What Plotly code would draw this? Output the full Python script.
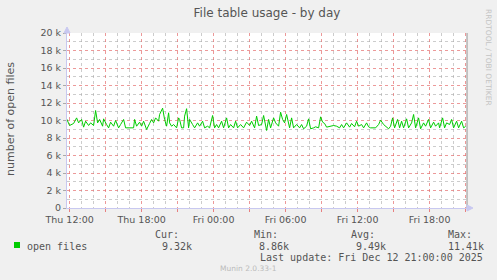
import plotly.graph_objects as go
import pandas as pd

# ---------------- data ----------------
series_name = "open files"
start_time = "2025-12-11 11:45"          # first 5-minute sample
sample_no = [
    0, 3, 7, 10, 12, 15, 17, 19, 22, 24, 27, 29, 31, 33, 36, 37, 40, 42, 44, 47,
    49, 52, 54, 57, 59, 62, 64, 67, 68, 70, 73, 75, 77, 80, 83, 85, 87, 89, 92, 93,
    96, 98, 100, 102, 103, 105, 107, 110, 112, 113, 115, 117, 118, 120, 122, 123, 126, 128, 131, 133,
    136, 138, 141, 143, 146, 148, 150, 152, 155, 157, 160, 162, 164, 167, 169, 171,
    174, 177, 180, 183, 185, 188, 190, 192, 195, 197, 200, 202, 204, 207, 209, 212, 214, 216, 218, 220,
    223, 225, 227, 230, 233, 235, 237, 240, 242, 244, 247, 249, 252, 254, 256, 258, 260, 263, 265, 267,
    270, 273, 275, 277, 280, 283, 285, 288, 290, 292, 295, 297, 300, 302, 304, 307, 309, 312, 314, 317,
    319, 322, 324, 326, 328, 331, 333, 335, 337, 340, 342, 345, 347, 349, 352, 354, 357, 359, 362, 364,
    367, 369, 372, 373, 376, 378, 380, 383, 385, 387, 390, 392, 395, 397, 399,
]
open_files = [
    10190, 9430, 9660, 10300, 9730, 10120, 9240, 9920, 9430, 9730, 9430, 11140, 9730, 10120, 9350, 10190, 9540, 9160, 9810, 9350,
    10000, 9160, 9540, 10120, 9160, 9160, 9240, 9160, 10120, 9350, 9810, 9350, 9920, 8970, 9660, 10120, 9730, 10300, 9920, 10690,
    11410, 10120, 9350, 10880, 9730, 9350, 9540, 9160, 10300, 10120, 9160, 9160, 10500, 11350, 9160, 10120, 9540, 9160, 9730, 9350,
    9920, 9160, 9350, 9160, 10570, 9160, 9540, 9160, 9920, 9160, 10300, 9160, 9540, 9160, 9920, 9160,
    9540, 9160, 9810, 9430, 9920, 9160, 10500, 9430, 9540, 10570, 8860, 10120, 9160, 10300, 9730, 9350, 10950, 10120, 9730, 10690,
    9160, 10300, 9160, 9540, 9160, 9540, 9050, 9350, 10190, 9050, 9160, 9280, 9160, 10420, 9810, 9660, 9240, 9350, 9430, 9430,
    9350, 9160, 9540, 9160, 9730, 9240, 9660, 9280, 9920, 9350, 9540, 9160, 9730, 9280, 9160, 9160, 9160, 9540, 10040, 9540,
    9350, 9050, 9350, 10300, 9160, 10120, 9160, 9920, 9160, 10190, 9160, 9730, 10690, 9160, 10300, 9050, 9730, 9350, 10120, 9160,
    9810, 9350, 9730, 9160, 10300, 9160, 9730, 9540, 10120, 9160, 9920, 9160, 9920, 9160, 9320,
]
x_range = ["2025-12-11 11:47", "2025-12-12 21:07"]
y_range = [0, 20000]
y_ticks = [0, 2000, 4000, 6000, 8000, 10000, 12000, 14000, 16000, 18000, 20000]
y_tick_labels = ["0", "2 k", "4 k", "6 k", "8 k", "10 k", "12 k", "14 k", "16 k", "18 k", "20 k"]
x_ticks = ["2025-12-11 12:00", "2025-12-11 15:00", "2025-12-11 18:00", "2025-12-11 21:00",
           "2025-12-12 00:00", "2025-12-12 03:00", "2025-12-12 06:00", "2025-12-12 09:00",
           "2025-12-12 12:00", "2025-12-12 15:00", "2025-12-12 18:00", "2025-12-12 21:00"]
x_tick_labels = ["Thu 12:00", "", "Thu 18:00", "", "Fri 00:00", "", "Fri 06:00", "",
                 "Fri 12:00", "", "Fri 18:00", ""]
title = "File table usage - by day"
y_title = "number of open files"
stat_names = ["Cur:", "Min:", "Avg:", "Max:"]
stat_values = ["9.32k", "8.86k", "9.49k", "11.41k"]
last_update = "Last update: Fri Dec 12 21:00:00 2025"
footer = "Munin 2.0.33-1"
watermark = "RRDTOOL / TOBI OETIKER"

# ---------------- figure ----------------
times = pd.Timestamp(start_time) + pd.to_timedelta([n * 5 for n in sample_no], unit="min")

# minor grid positions (hourly / every 1 k), skipping the major ones
hours = pd.date_range("2025-12-11 11:00", "2025-12-12 22:00", freq="1h")
x_minor = [h.strftime("%Y-%m-%d %H:%M") for h in hours if h.hour % 3 != 0]
y_minor = [v for v in range(1000, 20000, 1000) if v % 2000 != 0]

W, H = 497, 280
L, R, T, B = 67, 467, 33, 208

def px(x):
    return (x - L) / (R - L)

def py(y):
    return (B - y) / (B - T)

GREEN = "#00CC00"
MAJOR = "rgba(228,110,110,0.7)"
MINOR = "rgba(170,170,170,0.6)"
AXIS = "#C8C8F0"
TXT = "#555555"
DOTS = "dot"

fig = go.Figure()
fig.add_trace(go.Scatter(x=times, y=open_files, mode="lines", name=series_name,
                         line=dict(color=GREEN, width=1), showlegend=False))

fig.update_layout(
    width=W, height=H,
    margin=dict(l=L, r=W - R, t=T, b=H - B, autoexpand=False),
    paper_bgcolor="#F0F0F0", plot_bgcolor="#FFFFFF",
    font=dict(family="DejaVu Sans", size=9.5, color=TXT),
    title=dict(text=title, x=0.5, xref="paper", xanchor="center",
               y=1 - 13 / H, yref="container", yanchor="middle",
               font=dict(family="DejaVu Sans", size=12, color=TXT)),
)
fig.update_xaxes(
    type="date", range=x_range,
    tickmode="array", tickvals=x_ticks, ticktext=x_tick_labels,
    showgrid=True, gridcolor=MAJOR, griddash=DOTS, gridwidth=1,
    ticks="outside", ticklen=3, tickcolor="#E88080",
    showline=True, linecolor=AXIS, linewidth=1, zeroline=False,
    minor=dict(tickmode="array", tickvals=x_minor,
               showgrid=True, gridcolor=MINOR, griddash=DOTS, gridwidth=1, ticks=""),
    tickfont=dict(family="DejaVu Sans", size=9.5, color=TXT),
)
fig.update_yaxes(
    range=y_range, tickmode="array", tickvals=y_ticks, ticktext=y_tick_labels,
    showgrid=True, gridcolor=MAJOR, griddash=DOTS, gridwidth=1,
    ticks="outside", ticklen=3, tickcolor="#AAAAAA",
    showline=True, linecolor=AXIS, linewidth=1, zeroline=False,
    minor=dict(tickmode="array", tickvals=y_minor,
               showgrid=True, gridcolor=MINOR, griddash=DOTS, gridwidth=1, ticks=""),
    tickfont=dict(family="DejaVu Sans", size=9.5, color=TXT),
)

shapes = []
# right frame line
shapes.append(dict(type="line", xref="paper", yref="paper", x0=1, x1=1, y0=0, y1=1,
                   line=dict(color="#909090", width=1)))
# arrows on axes
shapes.append(dict(type="path", xref="paper", yref="paper", xsizemode="pixel", ysizemode="pixel",
                   xanchor=0, yanchor=1, path="M -3,0 L 3,0 L 0,6 Z",
                   fillcolor=AXIS, line=dict(color=AXIS, width=1)))
shapes.append(dict(type="path", xref="paper", yref="paper", xsizemode="pixel", ysizemode="pixel",
                   xanchor=1, yanchor=0, path="M 0,3 L 0,-3 L 6,0 Z",
                   fillcolor=AXIS, line=dict(color=AXIS, width=1)))
# legend colour box
shapes.append(dict(type="rect", xref="paper", yref="paper",
                   x0=px(14), x1=px(20), y0=py(248), y1=py(242),
                   fillcolor=GREEN, line=dict(width=0)))
fig.update_layout(shapes=shapes)

mono = dict(family="DejaVu Sans Mono", size=10, color=TXT)
ann = []

def add_text(text, x, y, xanchor="left", font=mono, angle=0):
    ann.append(dict(text=text, x=px(x), y=py(y), xref="paper", yref="paper",
                    xanchor=xanchor, yanchor="middle", showarrow=False,
                    font=font, textangle=angle, borderpad=0))

add_text(series_name, 26, 246)
name_x = [154, 253, 350, 447]
val_x = [161, 258, 355, 447]
for nm, v, nx, vx in zip(stat_names, stat_values, name_x, val_x):
    add_text(nm, nx, 234)
    add_text(v, vx, 246)
add_text(last_update, 484, 257, xanchor="right")
add_text(footer, 248, 268, xanchor="center",
         font=dict(family="DejaVu Sans", size=7.5, color="#BBBBBB"))
add_text(y_title, 10, 119, xanchor="center",
         font=dict(family="DejaVu Sans", size=11, color=TXT), angle=-90)
ann.append(dict(text=watermark, x=px(489), y=py(57), xref="paper", yref="paper",
                xanchor="center", yanchor="middle", showarrow=False, textangle=90,
                font=dict(family="DejaVu Sans", size=7.5, color="#C4C4C4")))
fig.update_layout(annotations=ann)

fig.write_html("out.html")
